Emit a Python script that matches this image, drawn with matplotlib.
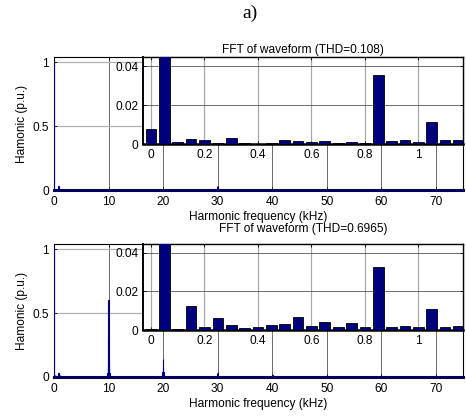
import matplotlib.pyplot as plt
import numpy as np

plt.rcParams['font.family'] = ['Liberation Sans', 'DejaVu Sans']

# inset bars: harmonic frequency (kHz), magnitude (p.u.)
inset_freq = [0.0, 0.05, 0.1, 0.15, 0.2, 0.25, 0.3, 0.35, 0.4, 0.45, 0.5, 0.55,
              0.6, 0.65, 0.7, 0.75, 0.8, 0.85, 0.9, 0.95, 1.0, 1.05, 1.1, 1.15]
inset_a = [0.0077, 1.0, 0.0012, 0.0026, 0.0022, 0.0007, 0.003, 0.0003, 0.0002, 0.0003,
           0.0019, 0.0014, 0.001, 0.0014, 0.0003, 0.0009, 0.0004, 0.0352, 0.0014, 0.0019,
           0.001, 0.0111, 0.0019, 0.0019]
inset_b = [0.0005, 1.0, 0.0007, 0.0123, 0.0014, 0.0062, 0.0026, 0.0009, 0.0017, 0.0026,
           0.0031, 0.0067, 0.0022, 0.0039, 0.0014, 0.0036, 0.0014, 0.0325, 0.0014, 0.002,
           0.0014, 0.0109, 0.0014, 0.0022]

# switching-frequency clusters in the full spectrum
high_freq_a = [29.85, 29.9, 29.95, 30.0, 30.05, 30.1, 30.15, 59.95, 60.0, 60.05]
high_a = [0.008, 0.015, 0.03, 0.01, 0.03, 0.015, 0.008, 0.008, 0.004, 0.008]

high_freq_b = [9.7, 9.8, 9.85, 9.9, 9.95, 10.0, 10.05, 10.1, 10.15, 10.2, 10.3,
               19.85, 19.9, 19.95, 20.0, 20.05, 20.1, 20.15,
               29.9, 29.95, 30.0, 30.05, 30.1,
               39.95, 40.0, 40.05, 49.95, 50.05, 59.95, 60.05, 69.95, 70.05]
high_b = [0.02, 0.03, 0.06, 0.1, 0.3, 0.6, 0.14, 0.1, 0.05, 0.03, 0.02,
          0.02, 0.04, 0.065, 0.14, 0.065, 0.04, 0.02,
          0.01, 0.03, 0.01, 0.04, 0.01,
          0.012, 0.004, 0.012, 0.008, 0.008, 0.006, 0.006, 0.004, 0.004]

titles = ['FFT of waveform (THD=0.108)', 'FFT of waveform (THD=0.6965)']

navy = '#00007f'
W, H = 466, 419
FS = 8.6


def frac(x0, y0, x1, y1):
    return [x0 / W, 1 - y1 / H, (x1 - x0) / W, (y1 - y0) / H]


def style_ticks(ax):
    ax.tick_params(direction='in', length=2.5, width=0.6, top=True, right=True,
                   labelsize=FS, pad=3.5)


fig = plt.figure(figsize=(W / 100, H / 100), dpi=100)
fig.text(0.537, 1 - 13 / H, 'a)', ha='center', va='center',
         fontsize=14, family='Liberation Serif')

panels = [
    (57.3, 190.0, 144.0, inset_a, high_freq_a, high_a, titles[0], 50),
    (244.3, 376.7, 330.0, inset_b, high_freq_b, high_b, titles[1], 229),
]

for top, bot, ibot, ins, hf, hv, title, ty in panels:
    ax = fig.add_axes(frac(54, top, 463, bot))
    freqs = inset_freq + hf
    vals = ins + hv
    ax.bar(freqs, vals, width=0.05, color=navy, edgecolor=navy, linewidth=0.8, zorder=3)
    ax.set_xlim(0, 75)
    ax.set_ylim(0, 1.04)
    ax.set_xticks([0, 10, 20, 30, 40, 50, 60, 70])
    ax.set_yticks([0, 0.5, 1])
    ax.set_yticklabels(['0', '0.5', '1'])
    ax.xaxis.grid(True, color='#555555', linewidth=0.6)
    ax.yaxis.grid(True, color='#b0b0b0', linewidth=0.9)
    ax.set_axisbelow(True)
    style_ticks(ax)
    ax.tick_params(axis='x', pad=4.5)
    for s in ax.spines.values():
        s.set_linewidth(0.8)
    ax.spines['bottom'].set_linewidth(2.2)
    ax.spines['bottom'].set_color('#00005a')
    ax.set_xlabel('Harmonic frequency (kHz)', fontsize=FS, labelpad=2)
    ax.set_ylabel('Hamonic (p.u.)', fontsize=FS, labelpad=3)

    ix = fig.add_axes(frac(143, top, 463, ibot))
    ix.bar(inset_freq, ins, width=0.04, color=navy, edgecolor='black', linewidth=0.6, zorder=3)
    ix.set_xlim(-0.03, 1.167)
    ix.set_ylim(0, 0.0445)
    ix.set_xticks([0, 0.2, 0.4, 0.6, 0.8, 1.0])
    ix.set_xticklabels(['0', '0.2', '0.4', '0.6', '0.8', '1'])
    ix.set_yticks([0, 0.02, 0.04])
    ix.set_yticklabels(['0', '0.02', '0.04'])
    ix.xaxis.grid(True, color='#a8a8a8', linewidth=0.9)
    ix.yaxis.grid(True, color='#555555', linewidth=0.6)
    ix.set_axisbelow(True)
    style_ticks(ix)
    for s in ix.spines.values():
        s.set_linewidth(1.0)
    ix.spines['bottom'].set_linewidth(1.8)
    ix.spines['left'].set_linewidth(1.4)
    fig.text(303 / W, 1 - ty / H, title, ha='center', va='center', fontsize=FS)

fig.savefig('out.png', dpi=100)
